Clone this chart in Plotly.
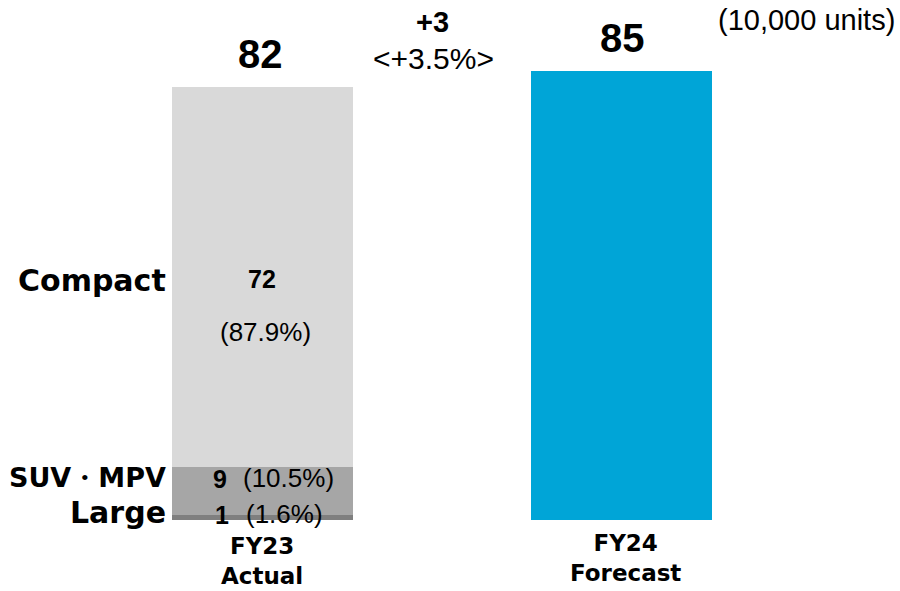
import plotly.graph_objects as go

# Unit sales (10,000 units)
years = ["FY23<br>Actual", "FY24<br>Forecast"]
segments = ["Large", "SUV・MPV", "Compact"]
fy23_values = [1, 9, 72]
fy23_shares = ["(1.6%)", "(10.5%)", "(87.9%)"]
fy24_total = 85
segment_colors = ["#7F7F7F", "#A6A6A6", "#D9D9D9"]
forecast_color = "#00A5D7"
change_label = "+3"
change_pct = "<+3.5%>"
unit_note = "(10,000 units)"

W, H = 900, 591
BOTTOM = 71            # px below the bar baseline
PX_PER_UNIT = 5.28     # vertical scale
X0_PX, DX_PX = 262, 359  # centre of first bar, spacing between bars

fy23_total = sum(fy23_values)
plot_h = H - BOTTOM
y_max = plot_h / PX_PER_UNIT
x_range = [-X0_PX / DX_PX, (W - X0_PX) / DX_PX]
bar_w = 181 / DX_PX


def xd(px):
    return (px - X0_PX) / DX_PX


def yd(px):
    return (plot_h - px) / PX_PER_UNIT


def yp(px):
    # paper fraction (lets labels sit below the plotting area)
    return (plot_h - px) / plot_h


BOLD_JP = "DejaVu Sans"
ARIAL = "Liberation Sans"

fig = go.Figure()

# FY23 stacked segments
for name, val, col in zip(segments, fy23_values, segment_colors):
    fig.add_trace(go.Bar(
        x=[0], y=[val], name=name, width=bar_w,
        marker=dict(color=col, line=dict(width=0)),
        showlegend=False, hoverinfo="skip",
    ))

# FY24 forecast total
fig.add_trace(go.Bar(
    x=[1], y=[fy24_total], width=bar_w,
    marker=dict(color=forecast_color, line=dict(width=0)),
    showlegend=False, hoverinfo="skip",
))

ann = []

# totals above bars
ann.append(dict(x=xd(260), y=fy23_total, text=f"<b>{fy23_total}</b>", yanchor="bottom",
                yshift=9, font=dict(family=ARIAL, size=40, color="black")))
ann.append(dict(x=xd(622), y=fy24_total, text=f"<b>{fy24_total}</b>", yanchor="bottom",
                yshift=9, font=dict(family=ARIAL, size=40, color="black")))

# change between years
ann.append(dict(x=xd(432), y=yd(22), text=f"<b>{change_label}</b>",
                font=dict(family=ARIAL, size=29, color="black")))
ann.append(dict(x=xd(433), y=yd(58), text=change_pct,
                font=dict(family=ARIAL, size=30, color="black")))

# unit note
ann.append(dict(x=xd(897), y=yd(20), text=unit_note, xanchor="right",
                font=dict(family=ARIAL, size=29, color="black")))

# segment names on the left
seg_label_y = {"Compact": 280, "SUV・MPV": 477, "Large": 512}
seg_label_size = {"Compact": 30, "SUV・MPV": 27, "Large": 30}
for name in segments:
    ann.append(dict(x=xd(168), y=yd(seg_label_y[name]), text=f"<b>{name}</b>",
                    xanchor="right",
                    font=dict(family=BOLD_JP, size=seg_label_size[name], color="black")))

# Compact: value and share on separate lines
ann.append(dict(x=xd(262), y=yd(279), text=f"<b>{fy23_values[2]}</b>",
                font=dict(family=ARIAL, size=25, color="black")))
ann.append(dict(x=xd(265), y=yd(332), text=fy23_shares[2],
                font=dict(family=ARIAL, size=26, color="black")))
# SUV・MPV
ann.append(dict(x=xd(220), y=yd(479), text=f"<b>{fy23_values[1]}</b>",
                font=dict(family=ARIAL, size=25, color="black")))
ann.append(dict(x=xd(288), y=yd(478), text=fy23_shares[1],
                font=dict(family=ARIAL, size=26, color="black")))
# Large
ann.append(dict(x=xd(222), y=yd(515), text=f"<b>{fy23_values[0]}</b>",
                font=dict(family=ARIAL, size=25, color="black")))
ann.append(dict(x=xd(284), y=yd(514), text=fy23_shares[0],
                font=dict(family=ARIAL, size=26, color="black")))

# year labels below the bars
ann.append(dict(x=xd(262), y=yp(561), yref="paper", yanchor="middle", borderpad=0,
                text="<b>" + years[0] + "</b>",
                font=dict(family=BOLD_JP, size=23, color="black")))
ann.append(dict(x=xd(625), y=yp(558), yref="paper", yanchor="middle", borderpad=0,
                text="<b>" + years[1] + "</b>",
                font=dict(family=BOLD_JP, size=23, color="black")))

for a in ann:
    a.setdefault("xref", "x")
    a.setdefault("yref", "y")
    a.setdefault("showarrow", False)

fig.update_layout(
    width=W, height=H,
    margin=dict(l=0, r=0, t=0, b=BOTTOM),
    barmode="stack",
    bargap=0,
    plot_bgcolor="white", paper_bgcolor="white",
    xaxis=dict(range=x_range, visible=False, fixedrange=True),
    yaxis=dict(range=[0, y_max], visible=False, fixedrange=True),
    annotations=ann,
)

fig.write_html("out.html")
